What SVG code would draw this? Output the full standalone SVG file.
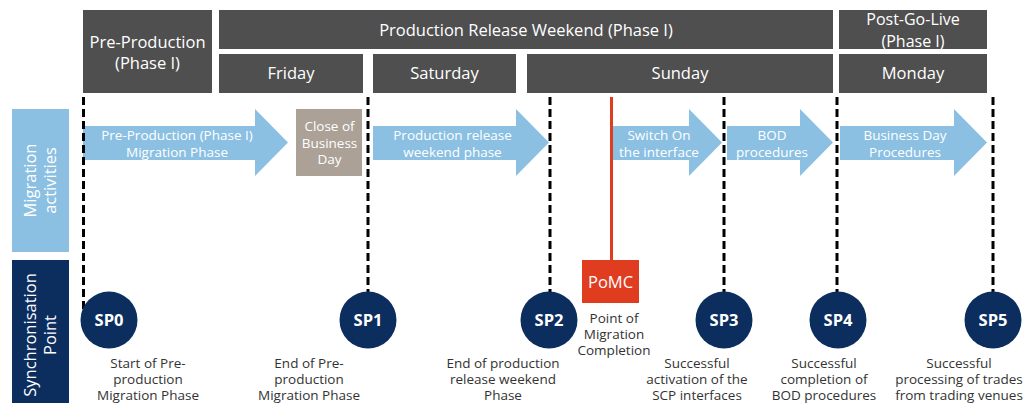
<svg xmlns="http://www.w3.org/2000/svg" width="1025" height="403" viewBox="0 0 1025 403">
<style>
.hdr{fill:#4f4f4f}
.ht{fill:#fff;font-family:"Open Sans","Liberation Sans",sans-serif;font-size:16.5px;text-anchor:middle}
.arr{fill:#8bc0e3}
.at{fill:#fff;font-family:"Open Sans","Liberation Sans",sans-serif;font-size:13.5px;text-anchor:middle}
.dt{fill:#333;font-family:"Open Sans","Liberation Sans",sans-serif;font-size:13.5px;text-anchor:middle}
.sp{fill:#0b2e5f}
.spt{fill:#fff;font-family:"Open Sans","Liberation Sans",sans-serif;font-size:16.5px;font-weight:bold;text-anchor:middle}
.dash{stroke:#000;stroke-width:3;stroke-dasharray:8 4;fill:none}
</style>
<rect width="1025" height="403" fill="#fff"/>
<g id="headers">
<g id="hdr-preprod"><rect class="hdr" x="83" y="10" width="129" height="83"/><text class="ht" x="147.5" y="48">Pre-Production</text><text class="ht" x="147.5" y="69">(Phase I)</text></g>
<g id="hdr-prw"><rect class="hdr" x="219" y="10" width="614" height="39"/><text class="ht" x="526" y="36">Production Release Weekend (Phase I)</text></g>
<g id="hdr-postgolive"><rect class="hdr" x="839" y="10" width="148" height="39"/><text class="ht" x="913" y="25" style="font-size:16px">Post-Go-Live</text><text class="ht" x="913" y="47" style="font-size:16px">(Phase I)</text></g>
<g id="hdr-friday"><rect class="hdr" x="219" y="54" width="144" height="39"/><text class="ht" x="291" y="79">Friday</text></g>
<g id="hdr-saturday"><rect class="hdr" x="373" y="54" width="143" height="39"/><text class="ht" x="444.5" y="79">Saturday</text></g>
<g id="hdr-sunday"><rect class="hdr" x="527" y="54" width="306" height="39"/><text class="ht" x="680" y="79">Sunday</text></g>
<g id="hdr-monday"><rect class="hdr" x="839" y="54" width="148" height="39"/><text class="ht" x="913" y="79">Monday</text></g>
</g>
<g id="lane-migration"><rect x="12" y="109" width="57" height="143" fill="#8bc0e3"/><g transform="rotate(-90 40.5 180.5)"><text class="ht" x="40.5" y="176.3">Migration</text><text class="ht" x="40.5" y="196.3">activities</text></g></g>
<g id="lane-sync"><rect x="12" y="260" width="57" height="143" fill="#0b2e5f"/><g transform="rotate(-90 40.5 335)"><text class="ht" x="40.5" y="330.8">Synchronisation</text><text class="ht" x="40.5" y="350.8">Point</text></g></g>
<g id="act-preprod"><polygon class="arr" points="83,126 255,126 255,109 288,142.5 255,176 255,160 83,160"/><text class="at" x="177" y="139.5">Pre-Production (Phase I)</text><text class="at" x="177" y="156.5">Migration Phase</text></g>
<g id="act-cob"><rect x="296" y="109" width="66" height="67" fill="#aba197"/><text class="at" x="329.5" y="130.5">Close of</text><text class="at" x="329.5" y="147.5">Business</text><text class="at" x="329.5" y="164">Day</text></g>
<g id="act-prw"><polygon class="arr" points="373,126 516,126 516,109 549,142.5 516,176 516,160 373,160"/><text class="at" x="452.5" y="139.5">Production release</text><text class="at" x="452.5" y="156.5">weekend phase</text></g>
<g id="act-switch"><polygon class="arr" points="612,126 689,126 689,109 722,142.5 689,176 689,160 612,160"/><text class="at" x="659" y="139.5">Switch On</text><text class="at" x="659" y="156.5">the interface</text></g>
<g id="act-bod"><polygon class="arr" points="727,126 800,126 800,109 833,142.5 800,176 800,160 727,160"/><text class="at" x="772" y="139.5">BOD</text><text class="at" x="772" y="156.5">procedures</text></g>
<g id="act-bday"><polygon class="arr" points="840,126 954,126 954,109 987,142.5 954,176 954,160 840,160"/><text class="at" x="905" y="139.5">Business Day</text><text class="at" x="905" y="156.5">Procedures</text></g>
<g id="connectors">
<line class="dash" x1="83.5" y1="97" x2="83.5" y2="319"/>
<line class="dash" x1="368" y1="97" x2="368" y2="292"/>
<line class="dash" x1="550" y1="97" x2="550" y2="292"/>
<line class="dash" x1="724" y1="97" x2="724" y2="292"/>
<line class="dash" x1="837" y1="97" x2="837" y2="292"/>
<line class="dash" x1="993" y1="97" x2="993" y2="292"/>
<line x1="611.5" y1="97" x2="611.5" y2="260" stroke="#e03c1f" stroke-width="3"/>
</g>
<g id="pomc"><rect x="582" y="260" width="57" height="43" fill="#e03c1f"/><text class="ht" x="610.5" y="288">PoMC</text><text class="dt" x="614" y="322.5">Point of</text><text class="dt" x="614" y="338.5">Migration</text><text class="dt" x="614" y="354.5">Completion</text></g>
<g id="sp0"><circle class="sp" cx="109" cy="320" r="28.5"/><text class="spt" x="109" y="326">SP0</text><text class="dt" x="148" y="367.5">Start of Pre-</text><text class="dt" x="148" y="383.5">production</text><text class="dt" x="148" y="399.5">Migration Phase</text></g>
<g id="sp1"><circle class="sp" cx="368" cy="320" r="28.5"/><text class="spt" x="368" y="326">SP1</text><text class="dt" x="309" y="367.5">End of Pre-</text><text class="dt" x="309" y="383.5">production</text><text class="dt" x="309" y="399.5">Migration Phase</text></g>
<g id="sp2"><circle class="sp" cx="549" cy="320" r="28.5"/><text class="spt" x="549" y="326">SP2</text><text class="dt" x="503" y="367.5">End of production</text><text class="dt" x="503" y="383.5">release weekend</text><text class="dt" x="503" y="399.5">Phase</text></g>
<g id="sp3"><circle class="sp" cx="724" cy="320" r="28.5"/><text class="spt" x="724" y="326">SP3</text><text class="dt" x="697" y="367.5">Successful</text><text class="dt" x="697" y="383.5">activation of the</text><text class="dt" x="697" y="399.5">SCP interfaces</text></g>
<g id="sp4"><circle class="sp" cx="838" cy="320" r="28.5"/><text class="spt" x="838" y="326">SP4</text><text class="dt" x="824" y="367.5">Successful</text><text class="dt" x="824" y="383.5">completion of</text><text class="dt" x="824" y="399.5">BOD procedures</text></g>
<g id="sp5"><circle class="sp" cx="993" cy="320" r="28.5"/><text class="spt" x="993" y="326">SP5</text><text class="dt" x="959" y="367.5">Successful</text><text class="dt" x="959" y="383.5">processing of trades</text><text class="dt" x="959" y="399.5">from trading venues</text></g>
</svg>
